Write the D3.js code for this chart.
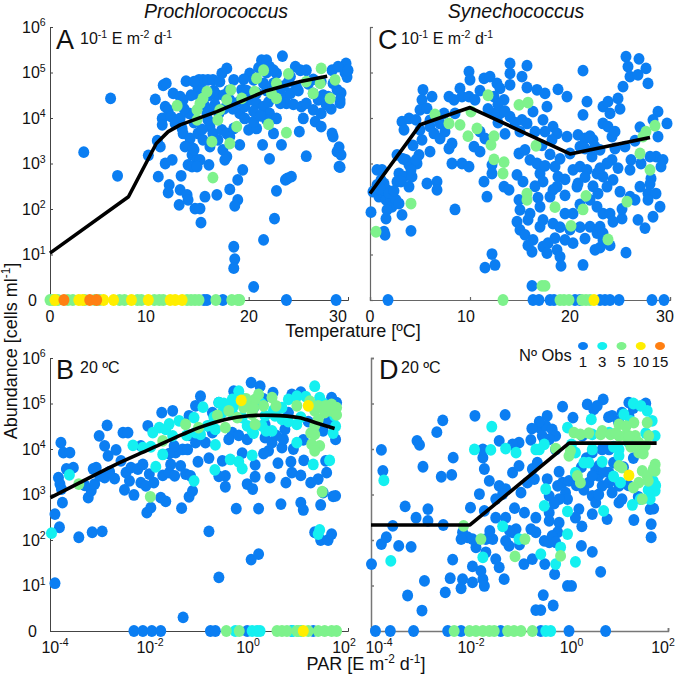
<!DOCTYPE html>
<html><head><meta charset="utf-8">
<script src="https://cdn.jsdelivr.net/npm/d3@7/dist/d3.min.js"></script>
<style>html,body{margin:0;padding:0;background:#fff}svg{display:block}text{font-family:"Liberation Sans",Arial,sans-serif;fill:#111}</style>
</head><body><svg id="c" width="677" height="676"></svg>
<script>
// Values are [x, log10(abundance)]; x is temperature (ºC) in A and C, log10(PAR) in B and D.
const aBlue=[[6.1,4.43],[3.4,3.25],[6.8,2.73],[9.9,3.18],[10.6,4.41],[11.4,4.72],[11.7,4.76],[11.6,4.25],[11.3,3.99],[11.3,3.85],[10.8,3.5],[11.1,3.37],[11.6,3.0],[12.3,3.08],[10.9,2.71],[12.0,2.53],[11.9,2.36],[13.1,2.42],[13.8,2.31],[13.0,2.09],[13.9,2.2],[14.6,2.01],[15.1,2.01],[15.2,1.7],[15.6,2.27],[13.2,2.73],[16,2.97],[16.8,2.31],[18.1,2.43],[18.9,2.64],[19.4,2.86],[18.9,2.2],[18.6,2.07],[18.5,1.17],[18.6,.9],[18.5,.7],[20.5,.29],[21.5,1.32],[22.6,1.79],[22.8,2.4],[23.7,2.64],[23.9,2.67],[24.3,2.71],[22.1,3.1],[21.4,3.41],[23.3,3.41],[22.5,3.66],[25.1,3.7],[25.8,3.16],[28.5,3.59],[28.4,3.66],[28.9,3.26],[29.1,2.93],[23.4,5.36],[29.8,5.2],[29.7,5.0],[29.3,4.55],[29.2,4.33],[29.3,3.19],[29.2,2.92],[29.1,3.36],
[13.7,4.81],[15,4.84],[15.4,4.84],[15.9,4.84],[16.4,4.84],[14.9,4.65],[15.1,4.47],[12.4,4.54],[13.1,4.47],[13.4,4.4],[11.9,4.18],[12.2,4.03],[13.1,3.99],[12.6,3.88],[13.3,3.77],[13.4,3.66],[14.1,3.55],[14.9,3.66],[13.6,3.37],[14.4,3.33],[14.3,3.19],[14.8,3.08],[15.1,3.08],[13.9,2.97],[14.3,2.93],[14.8,2.93],[15.4,3.52],[16.1,3.81],[15.9,3.96],[16.4,3.66],[16.9,3.52],[16.1,3.37],[17.3,3.74],[17.8,3.66],[17.4,3.3],[17.8,3.15],[17.6,3.08],[18.1,3.59],[19.1,3.41],[18.5,3.77],[17.3,4.98],[17.8,5.09],[17.1,4.8],[18.5,4.84],[19.3,4.62],[18.1,4.4],[16.8,4.51],[19.1,4.1],[19.6,3.99],[20,3.74],[20.8,3.77],[20.5,3.92],[19.6,4.25],[20.1,4.4],[20.8,4.32],[21.5,4.25],[20.1,4.98],[21.3,5.27],[21.8,5.27],[22.1,5.13],[20.5,4.84],[21.5,4.76],[22.8,4.98],[22.5,4.76],[23.5,4.47],[23.8,4.32],[23.2,4.32],[22.1,4.1],[22.8,3.99],[21.8,3.96],[24.2,4.91],[24.7,5.13],[25.2,5.05],[25.8,5.05],[24.8,4.69],[24.2,4.54],[25.3,4.25],[25.8,4.32],[26.5,4.18],[25.5,3.99],[26.7,3.92],[27.3,4.1],[27.3,3.81],[26.5,4.54],[27,4.4],[28,4.47],[28.4,5.05],[29,5.13],[28.9,4.62],[29.2,4.4],[28.5,4.76],[27.3,4.8],[21,5.1],[21.8,5],[22.5,5.05],[23,4.6],[24,4.8],[25,4.6],[26,4.75],[19.8,4.6],[20.8,4.55],[21.8,4.6],[22.8,4.45],[16.5,4.6],[15.5,4.3],[15.8,4.1],[16.2,4.2],[17,4.1],[17.5,4.5],[18,4.6],[14,4.1],[14.5,3.9],[27.8,4.3],[29.9,4.9],[30,5.05],
[14.2,4.5],[14.5,4.8],[15.5,4.6],[16,4.5],[16.6,4.3],[17.5,4.2],[18.4,4.2],[19,4.35],[19.5,4.85],[20.5,4.15],[21.2,4.05],[22,4.35],[23.5,4.7],[24.5,4.3],[26.5,4.85],[27.5,4.5],[28.3,4.2],[13.5,4.2],[14.5,3.3],[15.3,3.75]];
const aGreen=[[12.8,4.27],[14.8,4.18],[15.1,4.32],[15.4,4.43],[15.8,4.58],[14.8,3.96],[17.1,4.18],[16.9,3.96],[17.8,4.4],[18.2,4.62],[18.8,3.81],[16.3,3.48],[18.1,3.44],[16.4,2.69],[19.3,4.43],[20.6,4.58],[20.8,4.87],[21.5,5.05],[22,3.86],[23.8,3.68],[22.8,4.76],[22.3,4.54],[22.8,4.43],[24,4.97],[25.8,4.8],[26.5,4.54],[27.3,5.09],[27.2,4.76],[28.2,4.43],[28.7,4.84]];
const aZeroBlue=[15.5,15.8,17.4,23.8,28.8];
const aZeroGreen=[0,.3,.8,1.8,2.3,3.5,4.5,5,7,7.5,8.8,9.2,10.5,11,11.4,13.8,14.2,14.6,15,16.7,18.3,18.9,19.1];
const aZeroYellow=[.5,2.9,3.3,5.4,6.4,8.2,9.9,12.1,12.6,13.3];
const aZeroOrange=[1.4,4,4.7];
const aFit=[[0,1.03],[7.9,2.27],[10.7,3.44],[11.9,3.7],[13.1,3.85],[16.8,4.14],[21.8,4.6],[25.2,4.8],[27.9,4.92]];

const cBlue=[[.1,1.93],[.7,2.86],[1.2,2.86],[.3,2.38],[.9,2.27],[1.2,2.38],[.7,2.53],[1.4,2.56],[1.1,2.64],[1.7,2.42],[1.6,2.2],[2.1,2.2],[2.2,2.05],[1.7,1.98],[2.6,2.2],[2.9,2.12],[3.2,1.87],[1.6,1.79],[1.4,1.5],[1.5,1.43],[4.1,1.52],[8.5,1.99],[2.9,2.78],[2.7,2.6],[3.4,2.71],[3.1,2.6],[3.9,2.49],[4.2,2.71],[3.6,3.08],[3.9,2.97],[4.7,3],[4.9,3.19],[4.6,3.08],[4.1,2.86],[2.7,3.19],[5.7,2.56],[6.7,2.6],[6.7,2.42],[5.3,4.62],[5.2,4.4],[6.2,4.47],[5,4.18],[5.7,4.21],[3.2,3.92],[3.9,3.99],[3.4,3.74],[4.6,3.96],[5,3.74],[5.2,3.52],[6,3.81],[6.4,3.66],[7,3.88],[7.4,4.1],[7.9,4.47],[8.4,4.4],[9,4.65],[9.9,5.02],[10,4.84],[9.2,4.47],[9.9,4.47],[8.2,3.44],[7.9,3.33],[8.2,3],[9.2,3],[9.9,2.93],[6,3.26],[10.4,3.37],[11,3.26],[11.4,2.6],[11.7,2.27],[12.2,2.97],[12.2,2.78],[13.4,2.49],[13.9,2.42],[11.4,4.87],[12,4.91],[12.7,4.76],[13,4.65],[12.4,4.47],[13.4,4.4],[14,5.2],[14,4.98],[14,4.73],[15.2,4.91],[15.7,5.15],[15.7,4.67],[16.7,4.62],[17.5,4.54],[17.7,4.25],[18.8,4.63],[19.7,4.47],[16.3,4.14],[15.2,3.96],[14,4.03],[13,4.1],[12.4,4.1],[15.7,3.88],[17.3,3.96],[18.3,3.81],[18.7,3.66],[19.7,3.59],[18.2,3.52],[17.5,3.7],[20.8,3.63],[21.5,3.55],[22.3,3.52],[21.3,4.07],[21.7,4.36],[21.3,5.04],[14.9,3.22],[15.5,3.3],[16,3.08],[16.7,3],[17,2.78],[14.7,2.75],[15.3,2.6],[17.3,2.6],[18.5,2.93],[18.8,2.71],[18.7,2.49],[18,2.27],[18.3,2.42],[20.3,2.86],[21,2.93],[21.7,2.86],[22.7,2.78],[23.3,2.71],[20.7,2.49],[20.8,2.56],[24.3,2.64],[23.7,2.49],[25,2.38],[26,2.27],[27,2.49],[27.8,2.34],[28.6,2.34],[29,2.05],[28.3,1.83],[27.8,2.2],[14.9,2.2],[15,1.98],[15.8,1.76],[14.7,1.72],[15,1.54],[15.5,1.43],[16.3,1.32],[16.2,1.06],[17.3,1.17],[17.8,1.25],[17.7,1.03],[18.5,1.36],[18.7,1.1],[19.5,1.32],[20.3,1.25],[19,.95],[19.1,.75],[21.3,.77],[22.5,1.1],[25.6,1.04],[11.5,.71],[12.2,1.01],[12.5,.77],[17,1.61],[17.3,1.76],[18.3,1.68],[20.3,1.9],[22,1.61],[22.7,1.47],[23.3,1.32],[23,1.61],[23.3,1.9],[22.7,2.05],[22,2.2],[22.8,2.34],[24,1.9],[25.2,1.79],[26.8,1.76],[27.5,1.58],[24.3,1.72],[23.3,1.47],[24.2,3.08],[23.7,3],[22.2,3.15],[21,3.37],[21.5,3.33],[22.5,3.37],[20,3.22],[23.3,4.25],[23.8,4.36],[24,4.1],[23.3,3.88],[23.8,3.81],[24.2,3.59],[24.8,4.43],[25.6,5.35],[26.9,5.3],[25.8,5.13],[26,4.91],[25.3,4.69],[26.8,4.95],[27.6,5.09],[27.8,4.76],[28.8,4.14],[29.7,3.88],[28.3,3.96],[28.8,3.59],[28.6,3.15],[29.3,3.08],[29.1,2.93],[28.1,2.67],[26.1,3.08],[26,2.86],[27.1,3],[24.5,3.33],[25.5,3.37],[28,3.15],[16.2,.31],
[1,2.45],[1.9,2.35],[2.4,2.4],[3.3,3.1],[4.3,3.4],[6,3.95],[7,3.55],[7.5,3.7],[8.5,4.1],[10.5,4.4],[11,4.6],[11.8,4.2],[12.8,4.3],[13.5,4.15],[14.5,3.9],[11,3.7],[11.5,3.55],[12.8,3.9],[13.5,3.65],[15,3.7],[16.5,3.7],[17.2,3.4],[18,3.2],[19,3.1],[19.5,2.65],[17.5,2.95],[16.5,2.5],[16.8,2.25],[17,2.05],[19.5,1.9],[19,1.6],[19.5,2.3],[21,2.1],[21.5,2.7],[22.3,2.5],[23,2.9],[24.8,2.9],[25.2,2],[26.5,2.2],[28,2.55],[22,3.6],[23,3.3],[24.5,3.7],[26.5,3.5],[27,3.8],[25,4.2],[16,1.9],[15.8,1.2],[20,1.55],[21,1.6],[21.5,1.35],[24,1.2],[23,1.15]];
const cGreen=[[.6,1.5],[4.1,2.12],[6.5,4.08],[7.9,3.88],[9,3.85],[9.8,3.6],[10.7,3.77],[10.1,4.14],[11.8,4.5],[14.9,4.29],[15.8,4.34],[12.4,3.6],[12.1,3.41],[12.4,3.09],[13.4,3.03],[13.3,2.78],[16.6,3.39],[15.7,2.34],[15.7,2.2],[18.5,2.04],[20.1,1.63],[21.3,1.99],[21.6,2.29],[23.8,1.33],[25.7,2.16],[27,3.22],[28,2.86],[27.3,3.59],[27.6,3.7],[28.5,3.83],[17.2,.31],[17.5,.31]];
const cZeroBlue=[1.8,16.3,16.9,18,18.4,20.5,21,23,23.5,24,24.9,28.2,29.4];
const cZeroGreen=[13.3,19,19.4,19.9,21.2,21.6,22];
const cZeroYellow=[22.4];
const cFit=[[0,2.34],[5,3.85],[10,4.23],[20,3.21],[28,3.57]];

const bBlue=[[-3.9,1.05],[-3.9,2.57],[-3.81,2.28],[-3.75,2.82],[-3.42,2.06],[-3.15,2.17],[-2.95,2.19],[-3.78,4.14],[-3.73,3.92],[-3.6,3.92],[-3.83,3.37],[-3.8,3.23],[-3.67,3.56],[-3.53,3.59],[-3.77,3.12],[-3.23,2.93],[-3.17,3.08],[-3.1,3.23],[-3.13,3.56],[-3,3.41],[-2.9,3.37],[-2.7,3.35],[-3.07,3.59],[-2.85,4.52],[-3.01,4.29],[-2.9,4.07],[-2.83,3.85],[-2.67,3.98],[-2.53,4.36],[-2.43,4.36],[-2.57,3.74],[-2.47,3.48],[-2.37,3.59],[-2.23,3.56],[-2.13,3.66],[-2.17,4.07],[-2.17,3.26],[-2.07,3.19],[-2.5,3.1],[-2.31,2.99],[-1.91,3.26],[-2.05,2.6],[-1.97,2.71],[-1.77,2.93],[-1.67,2.85],[-1.35,2.7],[-1.2,2.95],[-1.13,3.08],[-1.75,4.8],[-1.73,3.42],[-1.6,3.48],[-1.57,3.66],[-1.49,3.41],[-1.37,3.63],[-1.27,3.45],[-1.47,3.92],[-1.33,3.99],[-1.5,4.07],[-1.23,3.99],[-1.02,3.72],[-1.17,3.41],[-2.03,4.51],[-1.53,4.84],[-.97,5.16],[-1.07,4.95],[-1.2,4.73],[-.8,2.19],[-.6,1.18],[-1.32,.3],[-.25,2.69],[.2,2.69],[.05,1.57],[.2,1.69],[.65,2.79],[1.05,2.82],[1.1,2.66],[1.45,2.77],[1.33,2.17],[1.45,2],[1.6,2],[1.67,2.13],[1.7,2.96],[1.5,3.04],[1.4,3.34],[1.25,3.26],[1.05,3.42],[.87,3.48],[.75,3.26],[.43,3.37],[.59,3.69],[.85,3.72],[1.11,3.75],[1.57,3.48],[1.55,3.74],[-.03,3.23],[.08,3.12],[.13,3.39],[.13,3.65],[-.13,3.91],[-.03,4.21],[-.47,3.41],[-.47,3.17],[-.53,3.74],[.05,5.46],[.23,5.38],[.49,5.24],[.87,5.2],[1.05,5.25],[-.3,5.27],[.4,3.96],[.67,4.03],[.7,4.21],[.33,4.25],[.47,4.14],[.73,4.43],[.33,4.54],[1.67,5.13],[1.77,5.02],[-.6,5.02],[-.73,4.8],[-.33,4.36],[-.4,4.21],[-.87,4.14],[-.73,4.36],[-1.07,4.14],[-1,4.29],[1.75,4.21],[1.75,2.97],
[-3.3,3.2],[-2.8,3.5],[-2.4,3.3],[-2,3.45],[-1.6,3.9],[-1.2,4.3],[-.8,4.5],[-.2,4.3],[.1,4.9],[.6,4.9],[.3,5.1],[1.2,4.6],[1.5,4.4],[1.6,4.6],[.8,4.8],[-.8,3.8],[-.6,3.4],[.3,3.9],[.55,4.3],[.9,4],[1.1,4.2]];
const bCyan=[[-3.97,2.15],[-3.61,3.43],[-2.33,4.08],[-2.13,4.03],[-1.97,4.05],[-1.87,3.61],[-1.73,3.88],[-1.93,4.36],[-1.8,4.47],[-1.67,4.43],[-1.53,4.29],[-1.4,4.62],[-1.1,4.69],[-.92,4.92],[-.6,5.02],[-.67,4.09],[-.68,3.54],[-1.1,3.3],[-.37,3.77],[-.2,3.72],[-.13,3.57],[.07,3.86],[-.33,5.09],[-.2,5.27],[-.53,4.8],[-.67,4.43],[-.83,4.51],[-.97,4.32],[-1.07,4.36],[-.03,4.51],[.07,4.4],[.27,4.51],[.47,4.4],[.53,4.73],[.67,4.91],[.8,5.09],[.67,4.65],[.97,5.16],[.97,4.54],[.97,4.14],[1.33,5.38],[1.43,5.13],[1.73,4.73],[1.3,3.66],[1.63,3.75],[1.43,2.22],[1.4,2.13],[.33,4.73],[-.33,4.8],[-.13,4.69],
[-1.6,4.55],[-1.25,4.3],[-.7,4.7],[-.5,5],[-.3,4.95],[-.1,5.1],[.25,5],[.5,4.85],[.8,4.6],[1.05,4.7],[1.15,5.15],[1.5,5],[1.75,4.5],[1.7,4.35],[.35,4.4],[.1,4.35]];
const bGreen=[[-3.42,3.23],[-1.98,2.95],[-1.73,4.18],[-1.27,4.54],[-1.01,4.47],[-.63,4.74],[-.47,4.47],[-.4,4.84],[-.23,4.69],[0,4.95],[.13,5.09],[.2,5.2],[.47,5.13],[.07,4.76],[.13,4.54],[.97,4.95],[1.23,5.05],[1.33,4.84],[1.53,4.8],[1.67,4.98],[1.77,4.91],[1.33,4.51],[1.33,4.32],[1.27,4.1],[1.43,4.07],[1.33,3.96],[1.48,3.06],[-.1,4.91],[.07,5.02],[1.67,4.84],
[.3,4.95],[.55,4.95],[.1,4.9],[-.05,5.1],[1.4,4.95],[1.55,4.95],[1.77,4.75],[1.4,4.65],[1.25,4.35]];
const bYellow=[[-.15,5.07],[1.2,4.95]];
const bZeroBlue=[-2.31,-2.13,-1.95,-1.77,-.77,-.67,-.03,.87,1.3];
const bZeroCyan=[-.27,.07,.17,.23,.88,1.06];
const bZeroGreen=[-.45,-.19,.57,.67,.77,.97,1,1.2,1.4,1.53,1.67,1.77];
const bZeroYellow=[1.1];
const bFit=[[-3.99,2.93],[-3.4,3.26],[-2.73,3.63],[-2,3.99],[-1.33,4.32],[-1,4.47],[-.47,4.65],[0,4.73],[.47,4.74],[1,4.69],[1.4,4.56],[1.73,4.45]];

const dBlue=[[-3.99,1.47],[-3.79,3.98],[-3.76,3.52],[-3.79,1.91],[-3.69,2.06],[-3.56,2.31],[-3.44,1.87],[-3.19,1.85],[-3.31,2.74],[-3.09,2.49],[-2.85,2.68],[-2.85,2.42],[-2.54,2.33],[-3.07,4.18],[-3.02,4.09],[-2.95,3.61],[-2.67,4.37],[-2.55,4.63],[-2.34,3.81],[-2.37,3.43],[-2.58,3.39],[-2.35,1.57],[-2.92,1.1],[-2.4,1.16],[-2.5,.85],[-3.26,.78],[-2.97,.45],[-2.15,1.14],[-2.18,.94],[-1.95,1.07],[-1.74,1.14],[-1.71,.99],[-1.31,1.14],[-1.41,1.4],[-1.48,1.58],[-1.95,1.42],[-1.78,1.32],[-1.88,1.84],[-1.68,1.73],[-.91,1.47],[-.74,1.58],[-.49,1.47],[-.29,1.25],[-.52,.79],[-.67,.46],[-.57,.46],[-.32,.56],[-.03,.99],[.05,.99],[.64,1.3],[.47,1.74],[.25,1.87],[.26,2.3],[-.5,1.98],[-.4,1.95],[-.67,2.17],[-.77,2.24],[-.67,2.49],[-.4,2.6],[-.4,2.42],[-.2,2.38],[-.23,2.17],[-.34,2.09],[-.27,1.95],[-1.14,2.17],[-1.07,2.24],[-1.28,2.49],[-1.48,2.49],[-1.71,2.64],[-1.99,2.71],[-2.15,2.17],[-2.05,2.06],[-2.18,2.02],[-1.95,2.02],[-1.68,2.02],[-1.54,2.02],[-1.21,1.87],[-1.28,1.98],[-1.9,4.73],[-1.29,4.75],[-1.74,3.81],[-1.71,3.56],[-1.61,3.3],[-1.81,3.01],[-1.41,4.18],[-1.74,3.99],[-1.01,4.14],[-1.14,4.1],[-1.14,3.48],[-1.01,3.63],[-1.41,3.19],[-1.28,3.12],[-1.34,3.01],[-1.48,2.9],[-.97,3.04],[-.84,3.26],[-.7,3.34],[-.74,3.56],[-.64,3.7],[-.77,4.2],[-.6,4.47],[-.44,4.73],[-.47,4.51],[-.34,4.43],[-.27,4.29],[-.13,4.93],[.08,4.69],[.37,4.98],[.5,4.87],[.69,5.09],[.57,4.95],[.87,4.73],[1.21,5.02],[1.07,4.8],[-.44,3.34],[-.13,3.26],[-.07,3.04],[-.03,2.9],[-.23,3.19],[-.4,2.97],[.2,2.68],[.13,2.49],[.77,2.46],[.47,2.57],[.47,2.97],[.54,2.82],[.67,3.19],[.87,3.04],[1.01,2.82],[1.07,2.9],[.6,3.41],[.81,3.48],[.4,3.26],[.47,3.92],[.67,3.99],[.81,3.99],[1.31,2.44],[1.66,2.35],[1.66,2.06],[1.64,2.68],[1.71,2.69],[.54,3.56],[.27,4.29],[.47,3.41],[1.01,3.19],[-.54,4.29],[-.4,4.21],[-.27,3.99],[.81,3.26],[.6,3.63],[1.21,4.73],
[-.6,4.6],[-.75,4.45],[-.5,4.2],[-.2,3.5],[0,3.3],[-.2,2.9],[.3,3.1],[.6,3],[.7,3.5],[.9,3.7],[1.1,3.6],[1.2,3.2],[1.3,4.9],[1,4.6],[1.4,2.95],[.35,3.8],[.8,4.7],[-1.6,2.2],[-1.2,2.2],[-1.1,2.7],[-.9,2.6],[-1,1.9],[-.3,2.8],[1.55,5],[1.3,3.8],[.15,3.2],[.25,3.6]];
const dCyan=[[-3.74,3.31],[-3.6,1.54],[-1.56,4.49],[-1.91,3.99],[-1.58,3.98],[-1.28,4.01],[-1.07,3.92],[-.67,3.99],[-.5,4.1],[-.47,3.12],[-.5,2.75],[-.03,2.63],[-.03,2.13],[-1.34,2.3],[-1.01,2.02],[-1.74,1.62],[-.57,1.69],[-.17,1.84],[-.27,1.47],[.13,1.52],[.7,2.64],[.67,3.72],[1.28,2.77],[1.74,4.29],[1.68,4.62],[1.58,4.84],[1.11,4.76],[1.24,4.62],[-.03,4.47],[.47,4.32],[.47,3.99],[.4,3.7],[.13,3.48],[1.01,3.99],[1.04,3.26],[1.74,3.08],[1.64,2.9],[1.44,2.9],[.81,4.36],[-.6,3.99],[1.01,3.85],[1.21,4.14],[.13,3.92],
[.3,3.7],[.45,4.65],[.9,4.05],[1.55,4.35],[1.7,3.3],[1.6,3.1],[1.75,3.2],[1.3,5],[1.45,4.95],[.05,4.1],[.9,3.4]];
const dGreen=[[-2.13,2.31],[-1.78,2.02],[-.89,2.02],[-1.09,1.64],[-.17,1.65],[-.27,4.01],[.03,3.96],[0,3.85],[.1,4.36],[.23,4.32],[.67,4.4],[.64,4.32],[.84,4.32],[1.01,4.54],[1.01,4.29],[1.14,4.29],[1.31,4.58],[1.34,4.29],[1.58,4.58],[1.61,4.29],[1.41,4.14],[1.54,4.07],[1.41,3.92],[1.01,3.63],[1.07,3.59],[1.48,3.52],[1.41,3.26],[1.58,3.41],[1.74,3.66],[1.74,3.52],[1.48,2.9],[.17,3.41],[.23,3.26],[1.21,4.29],
[.4,4.35],[.95,4.35],[1.15,4.5],[1.25,4.05],[1.5,3.9],[1.6,3.3],[1.3,3.15],[1.7,3.55]];
const dYellow=[[1.21,3.42]];
const dZeroBlue=[-3.91,-3.61,-3.14,-2.45,-2.18,-1.38,-.57,0,.74];
const dZeroCyan=[-.47,-.37];
const dZeroGreen=[-2.32,-2.01,-1.88,-1.74,-1.61,-1.51,-1.24,-1.11,-.97,-.74];
const dFit=[[-4,2.33],[-2,2.33],[0,4.13],[1.77,4.13]];

const yTicks=[0,1,2,3,4,5,6];
const tempTicks=[0,10,20,30];
const parTicks=[-4,-2,0,2];
const legendObs=["1","3","5","10","15"];
const colors={blue:"#0b7ef2",cyan:"#14f0f0",green:"#7ef28c",yellow:"#ffee00",orange:"#ff7f12"};
const legendColors=[colors.blue,colors.cyan,colors.green,colors.yellow,colors.orange];

const svg=d3.select("#c");
const rx=5.5,ry=5.9;

function rich(sel,parts,size){ // parts: [text, isSuperscript]
  let raised=false;
  parts.forEach(([t,sup])=>{
    const s=sel.append("tspan").text(t);
    if(sup){s.attr("font-size",size*0.66).attr("dy",raised?0:-size*0.4);raised=true;}
    else if(raised){s.attr("dy",size*0.4);raised=false;}
  });
}

function panel(o){
  const g=svg.append("g");
  const x=o.log?d3.scaleLog().domain(o.xDomain.map(v=>Math.pow(10,v))).range(o.xRange)
               :d3.scaleLinear().domain(o.xDomain).range(o.xRange);
  const y=d3.scaleLog().domain([1,1e6]).range(o.yRange);
  const xv=v=>o.log?x(Math.pow(10,v)):x(v);
  const yv=v=>y(Math.pow(10,v));

  const xAxis=d3.axisBottom(x).tickValues(o.xTicks.map(v=>o.log?Math.pow(10,v):v)).tickSize(-3).tickPadding(0).tickFormat(()=>"");
  const gx=g.append("g").attr("transform",`translate(0,${o.yRange[0]})`).call(xAxis);
  const yAxis=d3.axisLeft(y).tickValues(yTicks.map(v=>Math.pow(10,v))).tickSize(-3).tickFormat(()=>"");
  const gy=g.append("g").attr("transform",`translate(${o.xRange[0]},0)`).call(yAxis);
  [gx,gy].forEach(a=>{a.selectAll("path").attr("stroke",o.axisColor).attr("stroke-width",o.axisWidth);
    a.selectAll("line").attr("stroke",o.axisColor).attr("stroke-width",o.axisWidth);
    a.selectAll("text").remove();});

  const layer=(pts,c)=>g.append("g").selectAll("ellipse").data(pts).join("ellipse")
    .attr("cx",d=>xv(d[0])).attr("cy",d=>yv(d[1])).attr("rx",rx).attr("ry",ry).attr("fill",c);
  const zero=(vals,c)=>layer((vals||[]).map(v=>[v,0]),c);
  layer(o.blue,colors.blue);
  if(o.cyan)layer(o.cyan,colors.cyan);
  layer(o.green,colors.green);
  if(o.yellow)layer(o.yellow,colors.yellow);
  zero(o.zeroBlue,colors.blue);zero(o.zeroCyan,colors.cyan);zero(o.zeroGreen,colors.green);
  zero(o.zeroYellow,colors.yellow);zero(o.zeroOrange,colors.orange);

  const line=d3.line().x(d=>xv(d[0])).y(d=>yv(d[1])).curve(o.curve||d3.curveLinear);
  g.append("path").attr("d",line(o.fit)).attr("fill","none").attr("stroke","#000").attr("stroke-width",3.6).attr("stroke-linejoin","round");

  // x tick labels
  o.xTicks.forEach((v,i)=>{
    const t=g.append("text").attr("x",o.xLabelX[i]).attr("y",o.yRange[0]+21.5).attr("text-anchor","middle").attr("font-size",16);
    if(o.log)rich(t,[["10",false],[String(v),true]],16);else t.text(v);
  });
  // y tick labels
  if(o.yLabels)yTicks.forEach(v=>{
    const t=g.append("text").attr("y",yv(v)+5.5).attr("font-size",16);
    if(v===0){t.attr("x",37).attr("text-anchor","end").text("0");}
    else{t.attr("x",22).attr("text-anchor","start");rich(t,[["10",false],[String(v),true]],16);}
  });
  g.append("text").attr("x",o.letterX).attr("y",o.letterY).attr("font-size",27).text(o.letter);
  const sub=g.append("text").attr("x",o.subX).attr("y",o.subY).attr("font-size",16);
  rich(sub,o.sub,16);
}

const parSub=[["10",false],["-1",true],[" E m",false],["-2",true],[" d",false],["-1",true]];
const tSub=[["20 ºC",false]];

panel({letter:"A",letterX:56,letterY:49,subX:80,subY:44,sub:parSub,xDomain:[0,30],xRange:[50,348],yRange:[300,27],xTicks:tempTicks,xLabelX:[50,146,249,338],yLabels:true,axisColor:"#444",axisWidth:1,blue:aBlue,green:aGreen,zeroBlue:aZeroBlue,zeroGreen:aZeroGreen,zeroYellow:aZeroYellow,zeroOrange:aZeroOrange,fit:aFit});
panel({letter:"C",letterX:378,letterY:49,subX:401,subY:44,sub:parSub,xDomain:[0,30],xRange:[370,670],yRange:[300,27],xTicks:tempTicks,xLabelX:[370,466,570,665],yLabels:false,axisColor:"#666",axisWidth:1.2,blue:cBlue,green:cGreen,zeroBlue:cZeroBlue,zeroGreen:cZeroGreen,zeroYellow:cZeroYellow,fit:cFit});
panel({letter:"B",letterX:56,letterY:379,subX:80,subY:373,sub:tSub,log:true,xDomain:[-4,2],xRange:[50,348],yRange:[631,358],xTicks:parTicks,xLabelX:[55,150,248,344],yLabels:true,axisColor:"#444",axisWidth:1,blue:bBlue,cyan:bCyan,green:bGreen,yellow:bYellow,zeroBlue:bZeroBlue,zeroCyan:bZeroCyan,zeroGreen:bZeroGreen,zeroYellow:bZeroYellow,fit:bFit,curve:d3.curveCatmullRom});
panel({letter:"D",letterX:379,letterY:379,subX:401,subY:373,sub:tSub,log:true,xDomain:[-4,2],xRange:[371,668],yRange:[631,358],xTicks:parTicks,xLabelX:[379,471,571.5,663],yLabels:false,axisColor:"#777",axisWidth:1.5,blue:dBlue,cyan:dCyan,green:dGreen,yellow:dYellow,zeroBlue:dZeroBlue,zeroCyan:dZeroCyan,zeroGreen:dZeroGreen,fit:dFit});

// titles and axis names
svg.append("text").attr("x",216).attr("y",18).attr("text-anchor","middle").attr("font-size",19.5).attr("font-style","italic").text("Prochlorococcus");
svg.append("text").attr("x",516).attr("y",18).attr("text-anchor","middle").attr("font-size",19.5).attr("font-style","italic").text("Synechococcus");
svg.append("text").attr("x",353).attr("y",337).attr("text-anchor","middle").attr("font-size",18).text("Temperature [ºC]");
rich(svg.append("text").attr("x",366).attr("y",670).attr("text-anchor","middle").attr("font-size",18),[["PAR [E m",false],["-2",true],[" d",false],["-1",true],["]",false]],18);
rich(svg.append("text").attr("transform","translate(17,351) rotate(-90)").attr("text-anchor","middle").attr("font-size",18),[["Abundance [cells ml",false],["-1",true],["]",false]],18);

// legend
const lx=d3.scalePoint().domain(legendObs).range([583,660]);
svg.append("text").attr("x",519).attr("y",361).attr("font-size",16.5).text("Nº Obs");
const lg=svg.append("g");
lg.selectAll("ellipse").data(legendObs).join("ellipse").attr("cx",d=>lx(d)).attr("cy",346).attr("rx",5).attr("ry",4).attr("fill",(d,i)=>legendColors[i]);
lg.selectAll("text").data(legendObs).join("text").attr("x",d=>lx(d)).attr("y",367).attr("text-anchor","middle").attr("font-size",15).text(d=>d);
</script></body></html>
